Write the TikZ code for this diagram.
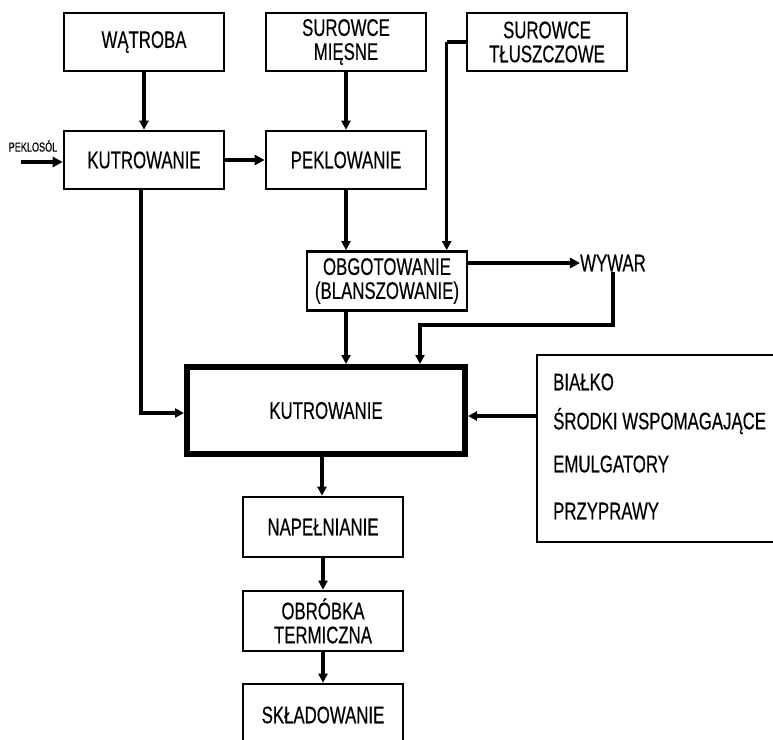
\documentclass[tikz,border=0pt]{standalone}
\usepackage{fontspec}
\setmainfont{Liberation Sans}[FakeStretch=0.7,FakeBold=0.4]
\usetikzlibrary{arrows.meta}

\tikzset{
  stepbox/.style={draw, line width=2.6pt, minimum width=160pt, minimum height=58pt,
    inner sep=0pt, align=center, font=\fontsize{24}{24}\selectfont},
  bigbox/.style={draw, line width=6pt, minimum width=278pt, minimum height=87pt,
    inner sep=0pt, font=\fontsize{24}{24}\selectfont},
  listbox/.style={draw, line width=2pt, minimum width=270pt, minimum height=187pt, inner sep=0pt},
  itemtext/.style={anchor=west, inner sep=0pt, font=\fontsize{24}{24}\selectfont},
  flow/.style={line width=3.2pt, -{Triangle[length=9pt,width=9pt]}},
  thickflow/.style={line width=4pt, -{Triangle[length=10pt,width=10pt]}},
  plain/.style={line width=3.2pt}
}

\begin{document}
\begin{tikzpicture}[x=1pt,y=-1pt]
  \useasboundingbox[fill=white] (0,0) rectangle (773,739);
  \clip (0,0) rectangle (773,739);

  % upper row of raw materials
  \node[stepbox] (watroba) at (144,42) {WĄTROBA};
  \node[stepbox] (mies)    at (346,42) {SUROWCE\\MIĘSNE};
  \node[stepbox] (tluszcz) at (547,42) {SUROWCE\\TŁUSZCZOWE};

  % first processing row
  \node[stepbox] (kutr1) at (144,160) {KUTROWANIE};
  \node[stepbox] (pekl)  at (346,160) {PEKLOWANIE};
  \node[inner sep=0pt, font=\fontsize{13}{13}\selectfont] (peklosol) at (33,146) {PEKLOSÓL};
  \coordinate (solin) at (21,162);

  % blanching and broth
  \node[stepbox, minimum height=59pt] (obgot) at (387,281) {OBGOTOWANIE\\(BLANSZOWANIE)};
  \node[inner sep=0pt, font=\fontsize{24}{24}\selectfont] (wywar) at (613,263) {WYWAR};

  % main chopping
  \node[bigbox] (big) at (326,410.5) {KUTROWANIE};

  % additives
  \node[listbox] (dodatki) at (672,448.5) {};
  \node[itemtext] (b1) at (553,382) {BIAŁKO};
  \node[itemtext] (b2) at (553,421) {ŚRODKI WSPOMAGAJĄCE};
  \node[itemtext] (b3) at (553,464) {EMULGATORY};
  \node[itemtext] (b4) at (553,511) {PRZYPRAWY};

  % final steps
  \node[stepbox, minimum height=60pt] (napel) at (323,527) {NAPEŁNIANIE};
  \node[stepbox, minimum height=60pt] (obrob) at (323,621) {OBRÓBKA\\TERMICZNA};
  \node[stepbox, minimum height=62pt] (sklad) at (323,715) {SKŁADOWANIE};

  % connectors
  \draw[flow] (watroba.south) -- (kutr1.north);
  \draw[flow] (mies.south) -- (pekl.north);
  \draw[thickflow] (solin) -- (kutr1.west |- solin);
  \draw[thickflow] (kutr1.east) -- (pekl.west);
  \draw[flow] (pekl.south) -- (pekl.south |- obgot.north);
  \draw[plain, line width=4pt] (tluszcz.west) -- ++(-19,0) coordinate (tl);
  \draw[flow] (tl) -- (tl |- obgot.north);
  \draw[thickflow] (obgot.east |- wywar.west) -- (wywar.west);
  \coordinate (wy) at ([yshift=-1pt]wywar.south);
  \draw[flow] (wy) |- (420,325) -- (420,364);
  \draw[flow] (pekl.south |- obgot.south) -- (pekl.south |- 0,364);
  \draw[flow] (kutr1.south -| 141,0) |- (big.west |- 0,413);
  \draw[flow] (dodatki.west |- 0,416) -- (big.east |- 0,416);
  \draw[flow] (big.south -| 322,0) -- (napel.north -| 322,0);
  \draw[flow] (napel.south) -- (obrob.north);
  \draw[flow] (obrob.south) -- (sklad.north);
\end{tikzpicture}
\end{document}
